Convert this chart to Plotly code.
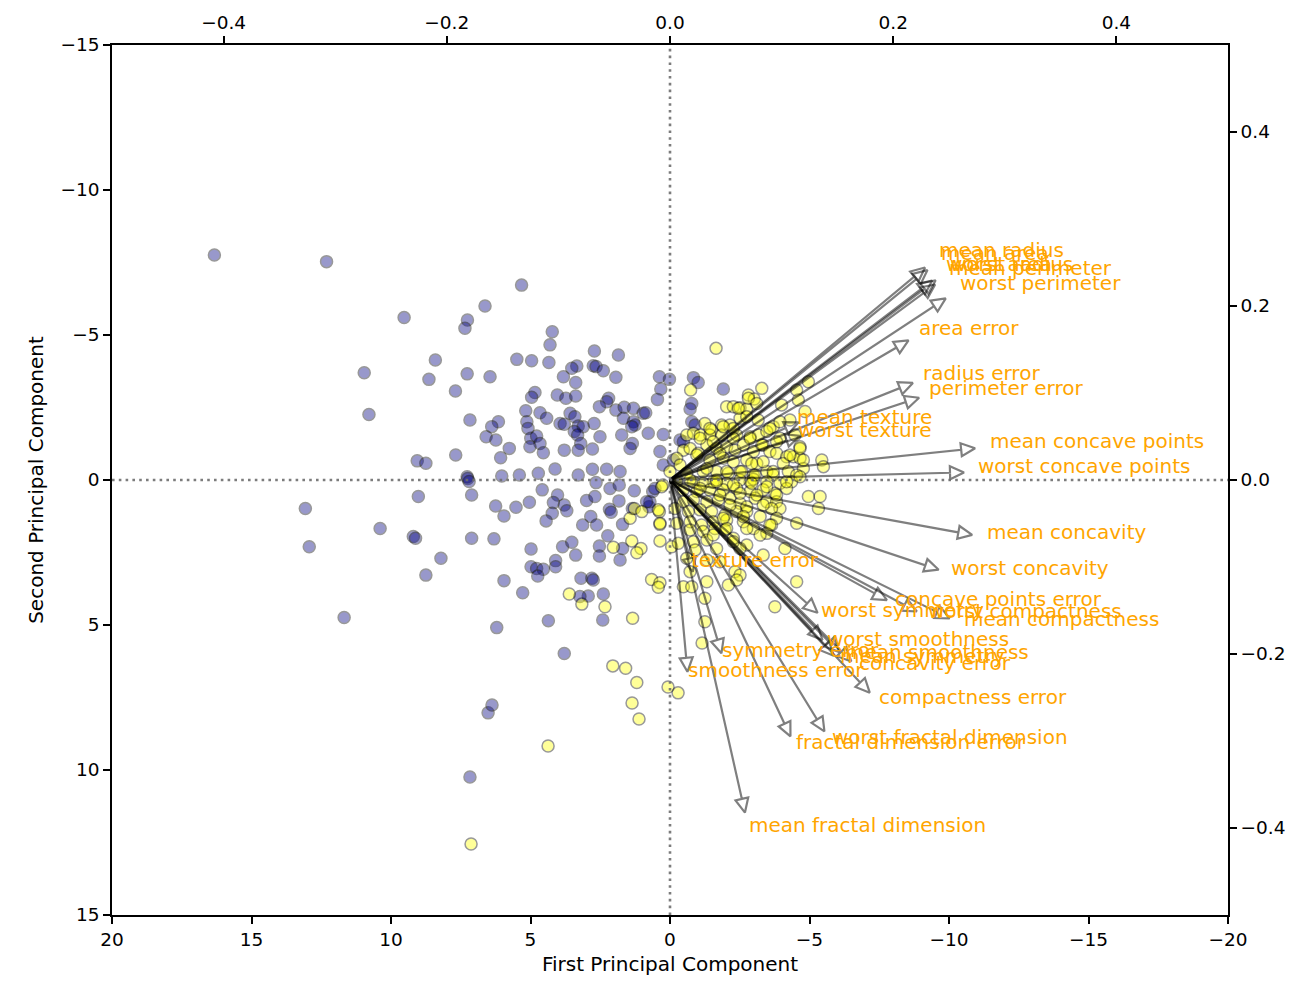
import math
import plotly.graph_objects as go

# ---------------- data ----------------
features = [
    "mean radius", "mean texture", "mean perimeter", "mean area", "mean smoothness",
    "mean compactness", "mean concavity", "mean concave points", "mean symmetry",
    "mean fractal dimension", "radius error", "texture error", "perimeter error",
    "area error", "smoothness error", "compactness error", "concavity error",
    "concave points error", "symmetry error", "fractal dimension error",
    "worst radius", "worst texture", "worst perimeter", "worst area",
    "worst smoothness", "worst compactness", "worst concavity",
    "worst concave points", "worst symmetry", "worst fractal dimension",
]
load_pc1 = [0.2189, 0.1037, 0.2275, 0.2210, 0.1426, 0.2393, 0.2584, 0.2609, 0.1382, 0.0644,
            0.2060, 0.0174, 0.2113, 0.2029, 0.0145, 0.1704, 0.1536, 0.1834, 0.0425, 0.1026,
            0.2280, 0.1045, 0.2366, 0.2249, 0.1280, 0.2101, 0.2288, 0.2509, 0.1229, 0.1318]
load_pc2 = [0.2339, 0.0597, 0.2152, 0.2311, -0.1861, -0.1519, -0.0602, 0.0348, -0.1903, -0.3666,
            0.1056, -0.0900, 0.0895, 0.1523, -0.2044, -0.2327, -0.1972, -0.1303, -0.1838, -0.2801,
            0.2199, 0.0455, 0.1999, 0.2194, -0.1723, -0.1436, -0.0980, 0.0083, -0.1419, -0.2753]

malignant = [
    (16.33, -7.76), (12.31, -7.53), (10.96, -3.70), (10.79, -2.26), (13.07, 0.98), (10.39, 1.67),
    (12.93, 2.30), (11.68, 4.74),
    (5.32, -6.72), (6.63, -6.0), (9.53, -5.6), (7.26, -5.52), (7.35, -5.23), (4.22, -5.11),
    (4.30, -4.66), (2.71, -4.45), (1.85, -4.31), (8.41, -4.14), (5.49, -4.16), (4.96, -4.11),
    (4.34, -4.05), (3.34, -3.93), (3.52, -3.85), (2.75, -3.94), (2.65, -3.91), (2.39, -3.77),
    (8.64, -3.47), (7.27, -3.66), (6.45, -3.56), (3.82, -3.56), (3.38, -3.36), (1.94, -3.54),
    (0.38, -3.56), (0.02, -3.47), (0.33, -3.14), (0.45, -2.78), (7.69, -3.07), (4.84, -3.02),
    (4.96, -2.85), (4.04, -2.93), (3.73, -2.82), (3.38, -2.90), (2.20, -2.82), (2.27, -2.70),
    (2.53, -2.53), (7.17, -2.07), (5.17, -2.39), (4.66, -2.32), (4.42, -2.13), (3.58, -2.30),
    (3.41, -2.18), (6.15, -2.01), (6.39, -1.84), (5.13, -2.01), (5.09, -1.78), (3.94, -1.95),
    (3.79, -1.92), (3.29, -1.86), (3.11, -1.84), (2.72, -1.95), (1.94, -2.41), (1.64, -2.51),
    (1.31, -2.47), (1.67, -2.13), (1.31, -2.01), (1.25, -1.90), (0.96, -2.30), (0.87, -2.32),
    (1.37, -1.84), (6.59, -1.49), (6.24, -1.38), (4.99, -1.44), (4.78, -1.52), (4.66, -1.26),
    (3.43, -1.67), (3.31, -1.55), (3.20, -1.26), (2.51, -1.49), (1.73, -1.55), (1.35, -1.26),
    (1.43, -1.09), (0.78, -1.61), (0.24, -1.57), (5.76, -1.09), (6.07, -0.77), (5.02, -1.15),
    (4.54, -0.94), (3.79, -1.03), (3.29, -1.03), (2.78, -1.07), (7.68, -0.86), (9.06, -0.66),
    (8.75, -0.58), (4.12, -0.38), (4.72, -0.23), (5.40, -0.17), (6.03, -0.14), (7.27, -0.11),
    (3.29, -0.17), (2.78, -0.37), (2.27, -0.37), (1.79, -0.29), (0.36, -0.98),
    (7.25, -0.05), (7.20, 0.05), (9.02, 0.57), (7.11, 0.52), (4.58, 0.34), (4.03, 0.52),
    (4.18, 0.78), (3.79, 0.86), (3.70, 1.06), (6.25, 0.90), (5.95, 1.24), (5.52, 0.94),
    (5.04, 0.77), (4.22, 1.15), (4.44, 1.41), (2.99, 0.71), (2.69, 0.57), (2.65, 0.09),
    (2.15, 0.29), (1.82, 0.17), (1.28, 0.37), (1.83, 0.72), (2.17, 1.01), (2.11, 1.11),
    (2.84, 1.26), (3.13, 1.55), (2.63, 1.55), (1.70, 1.53), (1.35, 0.98), (0.75, 0.92),
    (0.62, 0.40), (0.54, 0.29), (0.72, 0.75), (9.20, 1.95), (9.12, 2.01), (7.11, 2.01),
    (6.31, 2.03), (8.21, 2.70), (8.75, 3.28), (4.98, 2.38), (3.85, 2.30), (3.52, 2.15),
    (3.38, 2.59), (2.23, 1.92), (2.53, 2.28), (2.53, 2.62), (1.70, 2.36), (1.79, 2.76),
    (4.98, 2.99), (4.78, 3.05), (4.54, 3.08), (4.74, 3.31), (4.10, 2.78), (4.10, 2.99),
    (5.95, 3.47), (5.28, 3.89), (3.19, 3.39), (2.80, 3.39), (2.75, 3.45), (2.93, 4.00),
    (3.23, 4.02), (2.39, 3.93), (4.36, 4.85), (2.41, 4.83), (6.21, 5.09), (3.79, 5.98),
    (7.17, 10.24), (6.52, 8.03), (6.38, 7.76),
    (-0.84, -3.53), (-1.01, -3.36), (-1.91, -3.14), (-0.78, -2.64), (-0.72, -2.45),
    (-0.78, -2.01), (-0.90, -1.90), (-0.36, -1.38), (-0.48, -1.32), (0.24, -0.52),
    (-0.12, -0.69), (0.84, 0.75),
]
benign = [
    (1.37, 2.10), (2.03, 2.32), (1.04, 2.36), (1.19, 2.51), (1.43, 1.32), (1.28, 0.98),
    (1.01, 1.09), (0.38, 1.09), (0.36, 1.53), (0.36, 2.10), (-0.06, 2.30), (0.26, 0.17),
    (0.66, 3.43), (0.36, 3.54), (0.42, 3.70), (3.61, 3.93), (3.16, 4.28), (2.33, 4.37),
    (1.34, 4.77), (2.05, 6.41), (1.59, 6.49), (1.19, 6.98), (1.36, 7.69), (1.11, 8.24),
    (0.07, 7.14), (-0.29, 7.34), (7.13, 12.55), (4.37, 9.17), (-1.15, 5.62),
    (-1.65, -4.54), (-0.74, -3.10), (-3.29, -3.16), (-4.96, -3.39), (-4.54, -3.10),
    (-2.81, -2.93), (-3.02, -2.79), (-4.60, -2.76), (-2.03, -2.53), (-2.27, -2.53),
    (-2.51, -2.49), (-2.75, -2.45), (-4.00, -2.59), (-4.84, -2.36), (-1.25, -1.95),
    (-1.49, -1.72), (-1.85, -1.90), (-2.15, -1.90), (-2.51, -2.13), (-3.16, -2.07),
    (-3.70, -1.84), (-4.30, -2.07), (-0.60, -1.55), (-0.84, -1.61), (-1.08, -1.55),
    (-1.43, -1.55), (-1.85, -1.55), (-2.39, -1.55), (-2.87, -1.49), (-3.17, -1.55),
    (-3.47, -1.67), (-3.94, -1.44), (-4.48, -1.55), (-4.66, -1.15), (-0.48, -1.03),
    (-0.72, -1.09), (-1.01, -0.92), (-1.32, -1.21), (-1.67, -1.09), (-2.03, -1.15),
    (-2.33, -1.03), (-2.63, -1.21), (-2.99, -0.98), (-3.34, -1.21), (-3.58, -0.98),
    (-3.82, -0.92), (-4.18, -0.80), (-4.42, -0.80), (-5.44, -0.69), (-5.50, -0.46),
    (-0.24, -0.75), (-0.36, -0.52), (-1.43, -0.69), (-1.91, -0.75), (-2.27, -0.63),
    (-2.75, -0.69), (-3.11, -0.57), (-4.06, -0.57), (-4.66, -0.75), (-4.78, -0.40),
    (0.00, -0.29), (-0.60, -0.23), (-1.19, -0.29), (-1.67, -0.29), (-2.09, -0.23),
    (-2.51, -0.29), (-2.99, -0.17), (-3.47, -0.29), (-3.70, -0.17), (-4.24, -0.29),
    (-4.54, -0.17), (-0.84, 0.06), (-1.55, 0.06), (-2.87, 0.06),
    (0.30, 0.23), (-0.24, 0.06), (-0.72, 0.00), (-1.19, 0.11), (-1.67, 0.00), (-2.03, 0.11),
    (-2.51, 0.00), (-2.99, -0.03), (-3.47, 0.06), (-3.94, 0.11), (-4.36, 0.06), (-4.66, -0.11),
    (-4.96, 0.57), (-5.38, 0.57), (-5.32, 0.98), (-4.54, 1.49), (-0.48, 0.34), (-0.96, 0.40),
    (-1.43, 0.34), (-1.91, 0.34), (-2.39, 0.29), (-2.87, 0.40), (-3.34, 0.34), (-3.76, 0.46),
    (-4.18, 0.29), (-0.48, 0.75), (-0.84, 0.69), (-1.32, 0.75), (-1.73, 0.69), (-2.15, 0.63),
    (-2.51, 0.80), (-3.05, 0.63), (-3.47, 0.75), (-3.82, 0.75), (-3.94, 0.98), (-3.64, 0.98),
    (0.42, 1.03), (-0.18, 0.98), (-0.66, 1.09), (-1.08, 1.03), (-1.49, 1.09), (-1.97, 1.21),
    (-2.39, 1.09), (-2.75, 1.09), (-3.23, 1.26), (-3.82, 1.32), (0.36, 1.49), (-0.24, 1.49),
    (-0.72, 1.44), (-1.13, 1.55), (-1.55, 1.44), (-2.03, 1.38), (-2.63, 1.44), (-2.99, 1.67),
    (-3.47, 1.84), (-3.64, 1.55), (-0.72, 1.72), (-1.19, 1.78), (-1.61, 1.67), (-1.97, 1.72),
    (-0.30, 2.18), (-0.84, 2.13), (-1.32, 2.07), (-2.27, 2.01), (-2.75, 2.24), (-0.90, 2.41),
    (-1.67, 2.36), (-2.51, 2.36), (-3.34, 2.59), (-4.12, 2.36), (-0.60, 2.70), (-1.32, 2.76),
    (-1.79, 2.82), (-0.72, 3.16), (-2.33, 3.16), (-2.51, 3.28), (-0.48, 3.68), (-0.78, 3.68),
    (-1.32, 3.51), (-2.09, 3.62), (-2.39, 3.45), (-4.54, 3.51), (-1.25, 4.08), (-3.76, 4.37),
    (-1.25, 4.89),
    (-2.81, -2.82), (-3.11, -2.64), (-2.45, -2.47), (-2.75, -2.18), (-3.58, -1.78),
    (-2.27, -1.78), (-1.43, -1.78), (-1.91, -1.84), (-3.94, -2.01), (-1.08, -1.44),
    (-1.55, -1.32), (-2.27, -1.44), (-2.87, -1.44), (-3.29, -1.21), (-3.82, -1.32),
    (-4.30, -0.86), (-4.66, -1.09), (-4.78, -0.69), (-0.96, -0.86), (-1.79, -0.92),
    (-2.93, -0.57), (-3.34, -0.63), (-1.32, -0.40), (-2.03, -0.29), (-2.57, -0.29),
    (-3.05, -0.17), (-3.70, -0.29), (-4.18, 0.06), (-1.67, 0.06), (-2.27, 0.17),
    (-2.93, 0.11), (-3.47, 0.23), (-1.08, 0.29), (-1.79, 0.52), (-2.51, 0.46),
    (-3.11, 0.52), (-3.82, 0.52), (-2.15, 0.86), (-2.75, 0.92), (-3.34, 0.86),
    (-1.91, 1.32), (-2.63, 1.26), (-3.58, 1.55), (-2.03, 1.67), (-2.75, 1.67),
    (-3.23, 1.90), (-1.55, 1.90), (-2.27, 2.13),
]
mal_pc1 = [p[0] for p in malignant]
mal_pc2 = [p[1] for p in malignant]
ben_pc1 = [p[0] for p in benign]
ben_pc2 = [p[1] for p in benign]

x_ticks = [20, 15, 10, 5, 0, -5, -10, -15, -20]
y_ticks = [-15, -10, -5, 0, 5, 10, 15]
load_ticks = [-0.4, -0.2, 0.0, 0.2, 0.4]

# ---------------- layout geometry ----------------
W, H = 1308, 986
ML, MR, MT, MB = 112, 80, 45, 71
PW, PH = W - ML - MR, H - MT - MB
SX, SY = PW / 1.0, PH / 1.0          # px per loading unit
HEAD_L, HEAD_W = 14.0, 13.0
LABEL_SCALE = 1.1
FONT = "DejaVu Sans"

fig = go.Figure()
marker_common = dict(size=12, opacity=0.4, line=dict(color="black", width=1.5))
fig.add_trace(go.Scatter(x=mal_pc1, y=mal_pc2, mode="markers", xaxis="x", yaxis="y",
                         marker=dict(color="navy", **marker_common), hoverinfo="skip",
                         showlegend=False))
fig.add_trace(go.Scatter(x=ben_pc1, y=ben_pc2, mode="markers", xaxis="x", yaxis="y",
                         marker=dict(color="yellow", **marker_common), hoverinfo="skip",
                         showlegend=False))

for name, cx, cy in zip(features, load_pc1, load_pc2):
    dx, dy = cx * SX, cy * SY
    n = math.hypot(dx, dy)
    ux, uy = dx / n, dy / n
    vx, vy = -uy, ux
    tip = (cx + HEAD_L * ux / SX, cy + HEAD_L * uy / SY)
    c1 = (cx + HEAD_W / 2 * vx / SX, cy + HEAD_W / 2 * vy / SY)
    c2 = (cx - HEAD_W / 2 * vx / SX, cy - HEAD_W / 2 * vy / SY)
    xs = [0, cx, c1[0], tip[0], c2[0], cx]
    ys = [0, cy, c1[1], tip[1], c2[1], cy]
    fig.add_trace(go.Scatter(x=xs, y=ys, mode="lines", xaxis="x2", yaxis="y2",
                             line=dict(color="rgba(0,0,0,0.5)", width=2.2),
                             hoverinfo="skip", showlegend=False))
    fig.add_annotation(x=cx * LABEL_SCALE, y=cy * LABEL_SCALE, xref="x2", yref="y2",
                       text=name, showarrow=False, xanchor="left", yanchor="bottom",
                       yshift=-8, xshift=-2,
                       font=dict(color="#FFA500", size=20, family=FONT))

dot = dict(color="rgba(110,110,110,0.9)", width=2.6, dash="2.6px,4.2px")
fig.add_shape(type="line", xref="x", yref="paper", x0=0, x1=0, y0=0, y1=1, line=dot, layer="above")
fig.add_shape(type="line", xref="paper", yref="y", x0=0, x1=1, y0=0, y1=0, line=dot, layer="above")

axis_common = dict(showgrid=False, zeroline=False, showline=True, linecolor="black",
                   linewidth=1.6, ticks="outside", ticklen=7, tickwidth=1.5,
                   tickcolor="black", tickfont=dict(size=18.5, family=FONT, color="black"))

fig.update_layout(
    width=W, height=H,
    margin=dict(l=ML, r=MR, t=MT, b=MB),
    paper_bgcolor="white", plot_bgcolor="white",
    font=dict(family=FONT, color="black"),
    showlegend=False,
    xaxis=dict(range=[20, -20], tickvals=x_ticks, domain=[0, 1], anchor="y",
               title=dict(text="First Principal Component", font=dict(size=20), standoff=8),
               **axis_common),
    yaxis=dict(range=[15, -15], tickvals=y_ticks, domain=[0, 1], anchor="x",
               title=dict(text="Second Principal Component", font=dict(size=20), standoff=11),
               **axis_common),
    xaxis2=dict(range=[-0.5, 0.5], tickvals=load_ticks, tickformat=".1f", overlaying="x",
                side="top", anchor="y2", **axis_common),
    yaxis2=dict(range=[-0.5, 0.5], tickvals=load_ticks, tickformat=".1f", overlaying="y",
                side="right", anchor="x2", **axis_common),
)

fig.write_html("out.html", config={"displayModeBar": False},
               post_script="document.body.style.margin='0';")
